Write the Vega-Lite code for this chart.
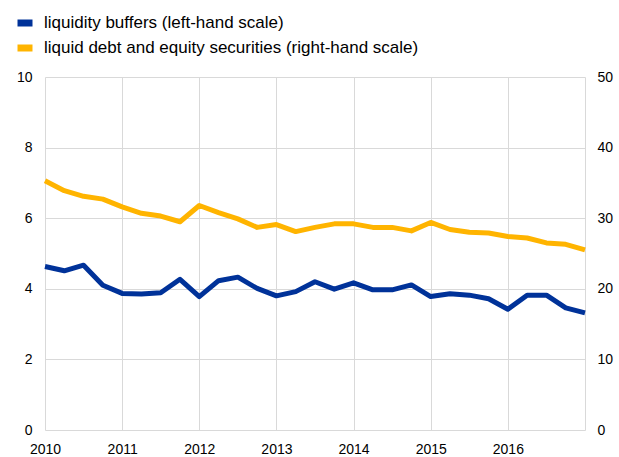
{
  "$schema": "https://vega.github.io/schema/vega-lite/v6.json",
  "width": 540,
  "height": 353,
  "autosize": {"type": "none"},
  "padding": {"left": 45, "top": 77, "right": 34, "bottom": 27},
  "background": "white",
  "config": {
    "font": "Liberation Sans",
    "view": {"stroke": null},
    "axis": {
      "labelFont": "Liberation Sans",
      "labelFontSize": 14,
      "labelColor": "#000000",
      "ticks": false,
      "domain": false,
      "gridColor": "#d9d9d9",
      "gridWidth": 1,
      "title": null
    },
    "legend": {
      "orient": "none",
      "legendX": -31,
      "legendY": -65,
      "title": null,
      "labelFont": "Liberation Sans",
      "labelFontSize": 17,
      "labelColor": "#000000",
      "labelLimit": 0,
      "symbolType": "stroke",
      "symbolStrokeWidth": 7,
      "symbolSize": 225,
      "labelOffset": 8,
      "rowPadding": -4
    }
  },
  "data": {
    "values": [
      {"year": 2010.00, "buffers": 4.63, "securities": 35.3},
      {"year": 2010.25, "buffers": 4.51, "securities": 33.9},
      {"year": 2010.50, "buffers": 4.67, "securities": 33.1},
      {"year": 2010.75, "buffers": 4.10, "securities": 32.7},
      {"year": 2011.00, "buffers": 3.87, "securities": 31.6},
      {"year": 2011.25, "buffers": 3.85, "securities": 30.7},
      {"year": 2011.50, "buffers": 3.89, "securities": 30.3},
      {"year": 2011.75, "buffers": 4.27, "securities": 29.5},
      {"year": 2012.00, "buffers": 3.78, "securities": 31.8},
      {"year": 2012.25, "buffers": 4.23, "securities": 30.8},
      {"year": 2012.50, "buffers": 4.33, "securities": 29.9},
      {"year": 2012.75, "buffers": 4.01, "securities": 28.7},
      {"year": 2013.00, "buffers": 3.80, "securities": 29.1},
      {"year": 2013.25, "buffers": 3.92, "securities": 28.1},
      {"year": 2013.50, "buffers": 4.20, "securities": 28.7},
      {"year": 2013.75, "buffers": 3.99, "securities": 29.2},
      {"year": 2014.00, "buffers": 4.17, "securities": 29.2},
      {"year": 2014.25, "buffers": 3.97, "securities": 28.7},
      {"year": 2014.50, "buffers": 3.97, "securities": 28.7},
      {"year": 2014.75, "buffers": 4.11, "securities": 28.2},
      {"year": 2015.00, "buffers": 3.78, "securities": 29.4},
      {"year": 2015.25, "buffers": 3.86, "securities": 28.4},
      {"year": 2015.50, "buffers": 3.82, "securities": 28.0},
      {"year": 2015.75, "buffers": 3.72, "securities": 27.9},
      {"year": 2016.00, "buffers": 3.42, "securities": 27.4},
      {"year": 2016.25, "buffers": 3.82, "securities": 27.2},
      {"year": 2016.50, "buffers": 3.82, "securities": 26.5},
      {"year": 2016.75, "buffers": 3.46, "securities": 26.3},
      {"year": 2017.00, "buffers": 3.32, "securities": 25.5}
    ]
  },
  "encoding": {
    "x": {
      "field": "year",
      "type": "quantitative",
      "scale": {"domain": [2010, 2017], "nice": false, "zero": false},
      "axis": {
        "values": [2010, 2011, 2012, 2013, 2014, 2015, 2016, 2017],
        "format": "d",
        "labelExpr": "datum.value == 2017 ? '' : datum.label",
        "labelFlush": false,
        "labelPadding": 12,
        "grid": true
      }
    }
  },
  "layer": [
    {
      "mark": {"type": "line", "strokeWidth": 5, "strokeJoin": "round"},
      "encoding": {
        "y": {
          "field": "buffers",
          "type": "quantitative",
          "scale": {"domain": [0, 10], "nice": false},
          "axis": {"orient": "left", "values": [0, 2, 4, 6, 8, 10], "grid": true, "labelPadding": 13}
        },
        "color": {
          "datum": "liquidity buffers (left-hand scale)",
          "type": "nominal",
          "scale": {
            "domain": ["liquidity buffers (left-hand scale)", "liquid debt and equity securities (right-hand scale)"],
            "range": ["#003299", "#FFB400"]
          }
        }
      }
    },
    {
      "mark": {"type": "line", "strokeWidth": 5, "strokeJoin": "round"},
      "encoding": {
        "y": {
          "field": "securities",
          "type": "quantitative",
          "scale": {"domain": [0, 50], "nice": false},
          "axis": {"orient": "right", "values": [0, 10, 20, 30, 40, 50], "grid": false, "labelPadding": 12}
        },
        "color": {
          "datum": "liquid debt and equity securities (right-hand scale)",
          "type": "nominal"
        }
      }
    }
  ],
  "resolve": {"scale": {"y": "independent"}}
}
